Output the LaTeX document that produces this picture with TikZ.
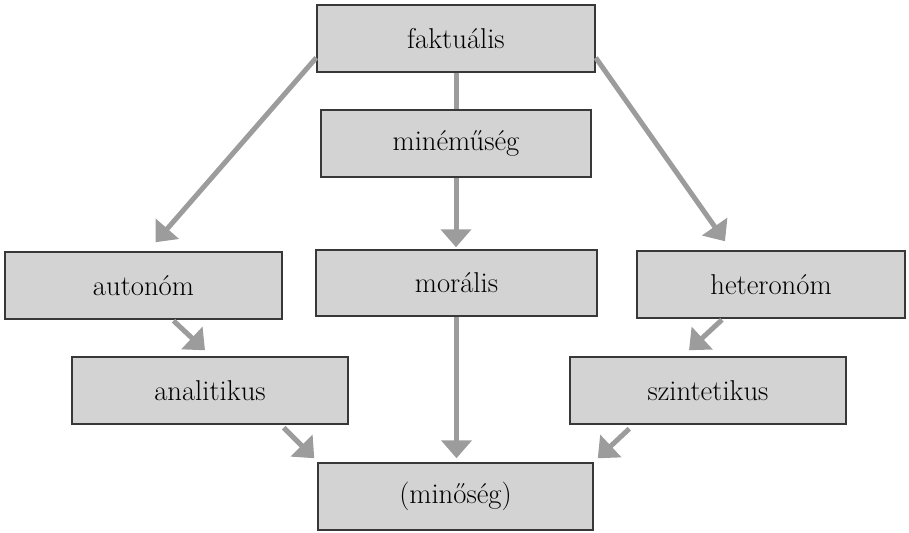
\documentclass[tikz,border=0pt]{standalone}
\usetikzlibrary{arrows.meta,calc}
\definecolor{boxfill}{HTML}{D3D3D4}
\definecolor{boxline}{HTML}{383838}
\definecolor{arrgray}{HTML}{9C9C9C}
\begin{document}
\begin{tikzpicture}[x=0.75pt,y=-0.75pt,
  box/.style={draw=boxline,fill=boxfill,line width=1.1pt,rectangle,inner sep=0pt,
    font=\fontsize{21.5}{26}\selectfont},
  arr/.style={draw=arrgray,line width=3.75pt,-{Triangle[length=13.5pt,width=22.5pt]}},
  plain/.style={draw=arrgray,line width=3.75pt}]
\useasboundingbox (0,0) rectangle (909,532);
\node[box,minimum width=208.5pt,minimum height=50.25pt] (fakt) at (456,38.5) {faktuális};
\node[box,minimum width=202.5pt,minimum height=50.25pt] (mine) at (456,143.5) {minéműség};
\node[box,minimum width=210.75pt,minimum height=49.5pt] (mora) at (456.5,283) {morális};
\node[box,minimum width=207.75pt,minimum height=50.25pt] (auto) at (143.5,285.5) {autonóm};
\node[box,minimum width=207pt,minimum height=50.25pt] (anal) at (210,390.5) {analitikus};
\node[box,minimum width=201pt,minimum height=50.25pt] (hete) at (771,284.5) {heteronóm};
\node[box,minimum width=207pt,minimum height=50.25pt] (szin) at (708,390.5) {szintetikus};
\node[box,minimum width=206.25pt,minimum height=50.25pt] (mino) at (455.5,496.5) {(minőség)};
% connector ends
\coordinate (f1) at ($(fakt.south west)+(0,-15)$);
\coordinate (f2) at ($(fakt.south east)+(0,-15)$);
\coordinate (t1) at ($(auto.north)+(12,-9)$);
\coordinate (t2) at ($(hete.north)+(-46,-9)$);
\coordinate (a1) at ($(auto.south)+(30,1)$);
\coordinate (a2) at ($(anal.north)+(-5,-6)$);
\coordinate (h1) at ($(hete.south)+(-49,1)$);
\coordinate (h2) at ($(szin.north)+(-19,-6)$);
\coordinate (n1) at ($(anal.south east)+(-65,3)$);
\coordinate (n2) at ($(mino.north west)+(-3,-4)$);
\coordinate (s1) at ($(szin.south west)+(60,4)$);
\coordinate (s2) at ($(mino.north east)+(4,-4)$);
\coordinate (m1) at ($(mora.north)+(0,-2)$);
\coordinate (m2) at ($(mino.north)+(0,-4)$);
\draw[plain] (fakt.south) -- (fakt.south |- mine.north);
\draw[arr] (mine.south) -- (mine.south |- m1);
\draw[arr] (f1) -- (t1);
\draw[arr] (f2) -- (t2);
\draw[arr] (a1) -- (a2);
\draw[arr] (h1) -- (h2);
\draw[arr] (mora.south) -- (mora.south |- m2);
\draw[arr] (n1) -- (n2);
\draw[arr] (s1) -- (s2);
\end{tikzpicture}
\end{document}
